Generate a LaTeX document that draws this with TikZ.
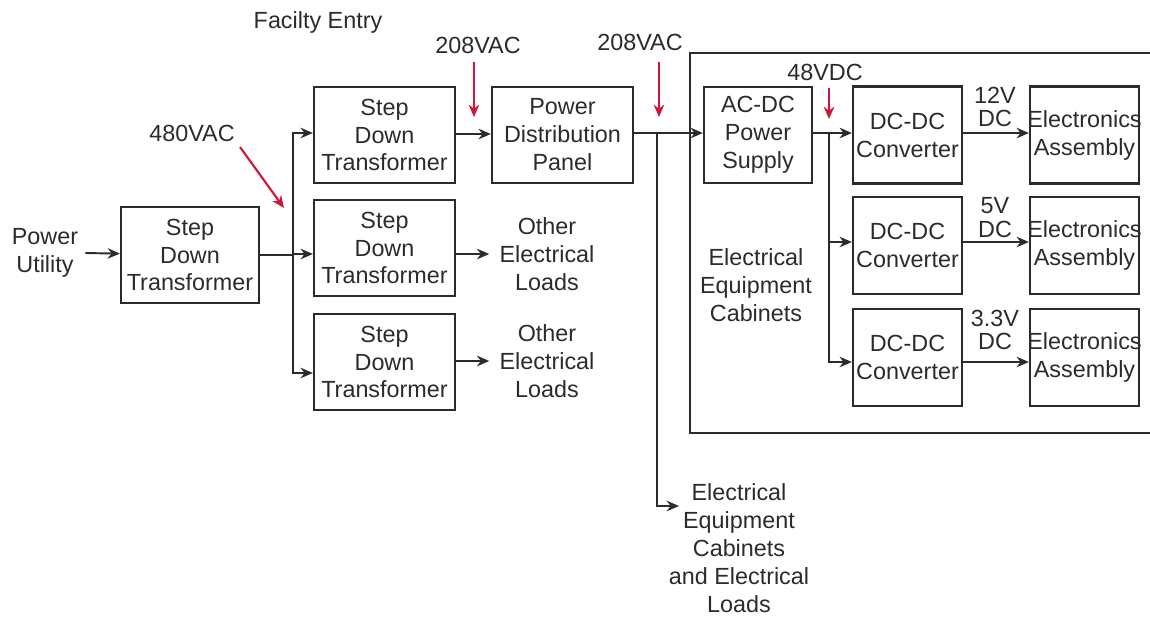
\documentclass[tikz,border=0pt]{standalone}
\usepackage{fontspec}
\setmainfont{Liberation Sans}
\usetikzlibrary{arrows.meta,positioning}
\definecolor{lineg}{HTML}{2B2B2B}
\definecolor{voltred}{HTML}{D2143A}

\begin{document}
\begin{tikzpicture}[
    x=0.02cm, y=-0.02cm,
    >={Stealth[length=7pt,width=6pt]},
    font=\fontsize{13.3}{15.9}\selectfont,
    block/.style={
      rectangle, draw=lineg, line width=1.3pt,
      align=center, inner sep=1pt, text=lineg,
      minimum height=1.92cm
    },
    xfmr/.style={block, minimum width=2.82cm},
    conv/.style={block, inner xsep=-0.1cm,
      minimum width=2.18cm, minimum height=1.94cm},
    lbl/.style={align=center, text=lineg, inner sep=0pt},
    vlbl/.style={lbl, font=\fontsize{13.3}{13.6}\selectfont},
    wire/.style={line width=1.1pt, lineg},
    arr/.style={->, line width=1.1pt, lineg},
    varr/.style={->, line width=1.2pt, voltred}
  ]
  \useasboundingbox (0,0) rectangle (1150,616);

  % Utility side
  \node[lbl] (utility) at (45,253) {Power\\Utility};
  \node[xfmr, minimum width=2.76cm] (sdt0) at (190,255)
    {Step\\Down\\Transformer};
  \coordinate (split0) at (293,255);
  \node[xfmr] (sdt1) at (384.5,135) {Step\\Down\\Transformer};
  \node[xfmr] (sdt2) at (384.5,248) {Step\\Down\\Transformer};
  \node[xfmr] (sdt3) at (384.5,362) {Step\\Down\\Transformer};
  \node[lbl] (other2) at (547,254) {Other\\Electrical\\Loads};
  \node[lbl] (other3) at (547,361) {Other\\Electrical\\Loads};
  \node[xfmr] (pdp) at (562.5,135) {Power\\Distribution\\Panel};
  \node[lbl] (entry) at (318,22) {Facilty Entry};

  \draw[arr] ([xshift=0.14cm]utility.east) -- (sdt0);
  \draw[wire] (sdt0) -- (split0);
  \draw[arr] (split0) |- ([yshift=0.04cm]sdt1.west);
  \draw[arr] (split0) |- ([yshift=-0.12cm]sdt2.west);
  \draw[arr] (split0) |- ([yshift=-0.22cm]sdt3.west);
  \draw[arr] (sdt2.east |- other2) -- ([xshift=-0.2cm]other2.west);
  \draw[arr] (sdt3.east |- other3) -- ([xshift=-0.2cm]other3.west);
  \draw[arr] ([yshift=0.02cm]sdt1.east) -- ([yshift=0.02cm]pdp.west);

  % Cabinet
  \draw[wire, line width=1.3pt] (1155,53) -- (690,53) -- (690,433) -- (1155,433);
  \node[lbl] (cablbl) at (756,285) {Electrical\\Equipment\\Cabinets};
  \node[block, minimum width=2.16cm] (acdc) at (758,135) {AC-DC\\Power\\Supply};
  \coordinate (split1) at (657,133);
  \coordinate (loadsin) at (679,506);
  \node[lbl] (loads) at (739,548)
    {Electrical\\Equipment\\Cabinets\\and Electrical\\Loads};

  \draw[arr] ([yshift=0.04cm]pdp.east) -- ([yshift=0.04cm]acdc.west);
  \draw[arr] (split1) |- (loadsin);

  % Converters
  \coordinate (split2) at (829,133);
  \node[conv] (dcdc1) at (907.5,135) {DC-DC\\Converter};
  \node[conv] (dcdc2) at (907.5,245.5) {DC-DC\\Converter};
  \node[conv] (dcdc3) at (907.5,357.5) {DC-DC\\Converter};
  \node[conv] (ea1) at (1084.5,135) {Electronics\\Assembly};
  \node[conv] (ea2) at (1084.5,245.5) {Electronics\\Assembly};
  \node[conv] (ea3) at (1084.5,357.5) {Electronics\\Assembly};
  \node[vlbl] (v12) at (995,107) {12V\\DC};
  \node[vlbl] (v5) at (995,218) {5V\\DC};
  \node[vlbl] (v33) at (995,330) {3.3V\\DC};

  \draw[arr] ([yshift=0.04cm]acdc.east) -- ([yshift=0.04cm]dcdc1.west);
  \draw[arr] (split2) |- ([yshift=0.07cm]dcdc2.west);
  \draw[arr] (split2) |- ([yshift=-0.09cm]dcdc3.west);
  \draw[arr] ([yshift=0.04cm]dcdc1.east) -- ([yshift=0.04cm]ea1.west);
  \draw[arr] ([yshift=0.07cm]dcdc2.east) -- ([yshift=0.07cm]ea2.west);
  \draw[arr] ([yshift=-0.09cm]dcdc3.east) -- ([yshift=-0.09cm]ea3.west);

  % Voltage markers
  \node[lbl] (v480) at (192,133) {480VAC};
  \node[lbl] (v208a) at (478,45) {208VAC};
  \node[lbl] (v208b) at (640,42) {208VAC};
  \node[lbl] (v48) at (825,72) {48VDC};
  \coordinate (m480s) at (240,147);
  \coordinate (m480e) at (284,208);
  \coordinate (m208as) at (474,62);
  \coordinate (m208ae) at (474,117);
  \coordinate (m208bs) at (659,62);
  \coordinate (m208be) at (659,117);
  \coordinate (m48s) at (829,88);
  \coordinate (m48e) at (829,119);

  \draw[varr] (m480s) -- (m480e);
  \draw[varr] (m208as) -- (m208ae);
  \draw[varr] (m208bs) -- (m208be);
  \draw[varr] (m48s) -- (m48e);
\end{tikzpicture}
\end{document}
